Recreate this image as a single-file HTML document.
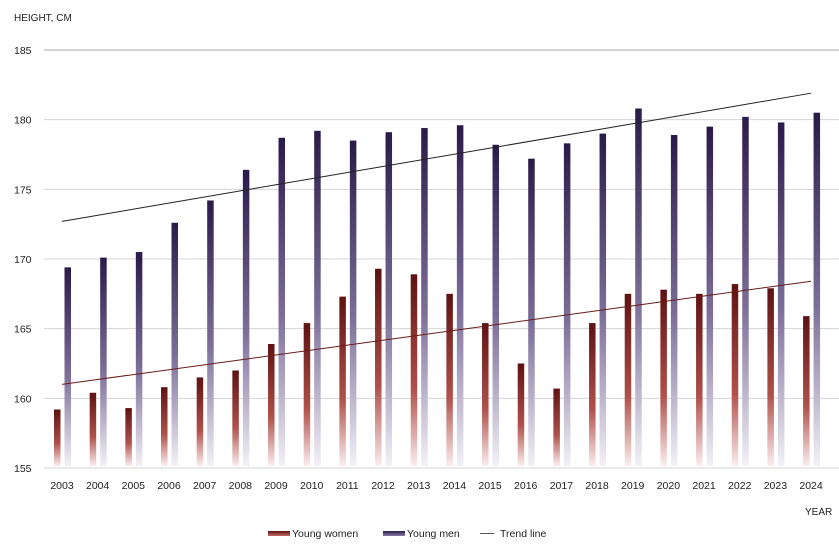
<!DOCTYPE html>
<html><head><meta charset="utf-8"><style>
body{margin:0;background:#fff;font-family:"Liberation Sans",sans-serif;}
svg text{font-family:"Liberation Sans",sans-serif;fill:#222;}
</style></head><body>
<svg id="chart" width="839" height="546">
<defs>
<linearGradient id="gw" x1="0" y1="0" x2="0" y2="1"><stop offset="0" stop-color="#5e1212"/><stop offset="0.6" stop-color="#b0504a"/><stop offset="1" stop-color="#fbeeee"/></linearGradient>
<linearGradient id="gm" x1="0" y1="0" x2="0" y2="1"><stop offset="0" stop-color="#2a1a4a"/><stop offset="0.55" stop-color="#7d6f9a"/><stop offset="1" stop-color="#f3f1f7"/></linearGradient>
<linearGradient id="lw" x1="0" y1="0" x2="0" y2="1"><stop offset="0" stop-color="#5e1212"/><stop offset="1" stop-color="#c06a62"/></linearGradient>
<linearGradient id="lm" x1="0" y1="0" x2="0" y2="1"><stop offset="0" stop-color="#2a1a4a"/><stop offset="1" stop-color="#8a7caa"/></linearGradient>
</defs>
<g id="grid"></g><g id="bars"></g><g id="trend"></g><g id="labels"></g>
<text x="14" y="21" font-size="10">HEIGHT, CM</text>
<text x="805" y="515" font-size="10">YEAR</text>
<g>
<rect x="268" y="531" width="22" height="5" fill="url(#lw)"/>
<text x="292" y="537" font-size="10.5">Young women</text>
<rect x="383" y="531" width="22" height="5" fill="url(#lm)"/>
<text x="407" y="537" font-size="10.5">Young men</text>
<line x1="480" y1="533.5" x2="494" y2="533.5" stroke="#555" stroke-width="1"/>
<text x="500" y="537" font-size="10.5">Trend line</text>
</g>
</svg>
<script>
const years=[2003,2004,2005,2006,2007,2008,2009,2010,2011,2012,2013,2014,2015,2016,2017,2018,2019,2020,2021,2022,2023,2024];
const women=[159.2,160.4,159.3,160.8,161.5,162.0,163.9,165.4,167.3,169.3,168.9,167.5,165.4,162.5,160.7,165.4,167.5,167.8,167.5,168.2,167.9,165.9];
const men=[169.4,170.1,170.5,172.6,174.2,176.4,178.7,179.2,178.5,179.1,179.4,179.6,178.2,177.2,178.3,179.0,180.8,178.9,179.5,180.2,179.8,180.5];
const yTicks=[155,160,165,170,175,180,185];
const menTrend=[172.7,181.9];
const womenTrend=[161.0,168.4];
const NS='http://www.w3.org/2000/svg';
const y=v=>468-(v-155)*(418/30);
const x=i=>62+i*35.67;
function mk(t,a,p){const e=document.createElementNS(NS,t);for(const k in a)e.setAttribute(k,a[k]);document.getElementById(p).appendChild(e);return e;}
yTicks.forEach(v=>{
 const l=mk('line',{x1:44,x2:839,y1:y(v),y2:y(v),stroke:v===185?'#aaa':'#d4d4d4','stroke-width':1},'grid');
 
 
 const t=mk('text',{x:14,y:y(v)+4,'font-size':10.5},'labels');t.textContent=v;
 
 
});
years.forEach((yr,i)=>{
 const w=mk('rect',{x:x(i)-8,y:y(women[i]),width:6.5,height:466-y(women[i]),fill:'url(#gw)'},'bars');
 
 
 const m=mk('rect',{x:x(i)+2.5,y:y(men[i]),width:6.5,height:466-y(men[i]),fill:'url(#gm)'},'bars');
 
 
 const t=mk('text',{x:x(i),y:489,'font-size':10.5,'text-anchor':'middle'},'labels');t.textContent=yr;
 
 
});
const n=years.length-1;
const tm=mk('line',{x1:x(0),y1:y(menTrend[0]),x2:x(n),y2:y(menTrend[1]),stroke:'#222','stroke-width':1},'trend');


const tw=mk('line',{x1:x(0),y1:y(womenTrend[0]),x2:x(n),y2:y(womenTrend[1]),stroke:'#6a1a1a','stroke-width':1},'trend');


</script>
</body></html>
